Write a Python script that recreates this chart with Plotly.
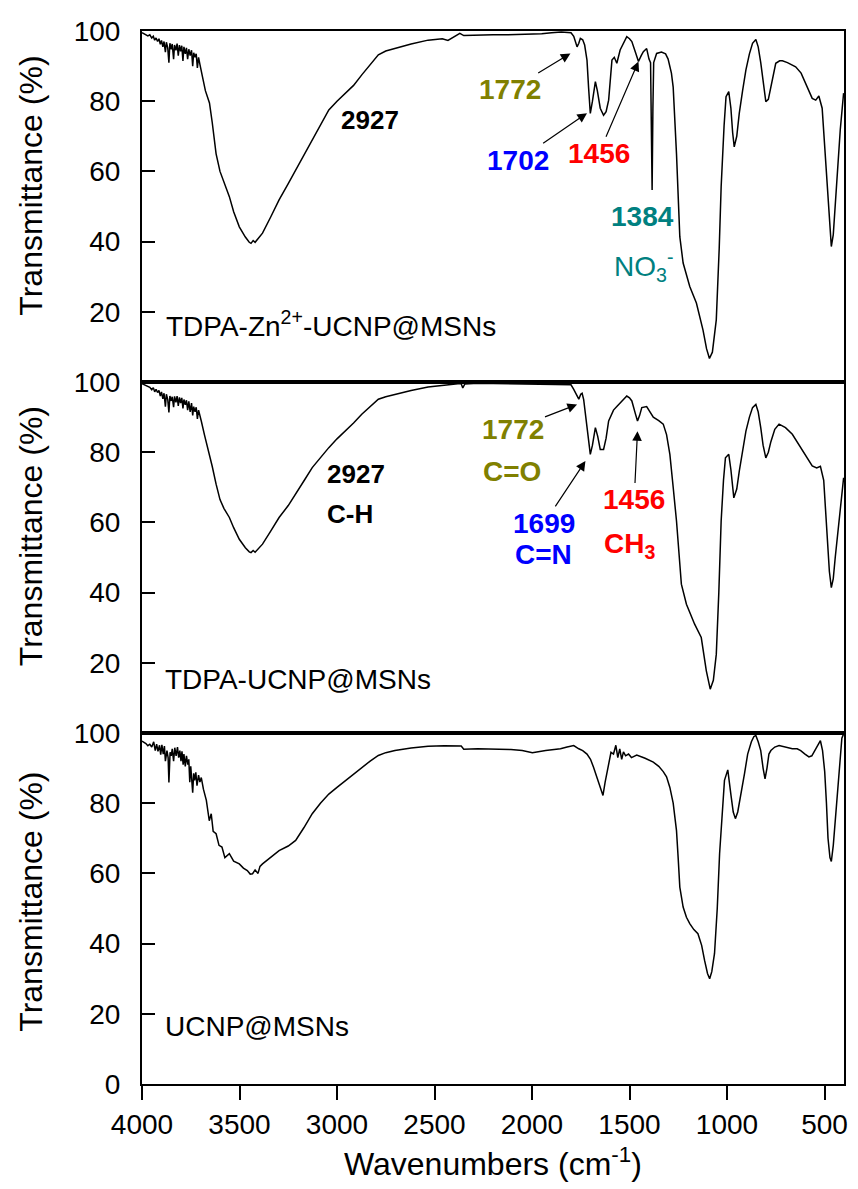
import plotly.graph_objects as go
from plotly.subplots import make_subplots

# ---------------- data ----------------
wn_zn = [4000, 3990, 3980, 3970, 3960, 3950, 3942, 3935, 3928, 3920, 3913, 3906, 3900, 3893, 3887, 3880,
         3875, 3868, 3862, 3857, 3850, 3845, 3838, 3833, 3826, 3820, 3814, 3808, 3802, 3796, 3790, 3785,
         3778, 3772, 3766, 3760, 3753, 3746, 3740, 3735, 3728, 3722, 3716, 3710, 3703, 3696, 3690, 3675,
         3654, 3640, 3620, 3600, 3580, 3552, 3530, 3501, 3470, 3450, 3441, 3430, 3420, 3400, 3382, 3340,
         3297, 3250, 3212, 3170, 3127, 3085, 3042, 3000, 2957, 2915, 2873, 2830, 2788, 2750, 2703, 2620,
         2533, 2460, 2431, 2410, 2370, 2350, 2300, 2200, 2125, 2050, 1950, 1900, 1850, 1800, 1786, 1769,
         1760, 1752, 1740, 1730, 1718, 1710, 1701, 1690, 1675, 1665, 1650, 1633, 1620, 1607, 1598, 1590,
         1578, 1565, 1548, 1530, 1514, 1500, 1488, 1470, 1454, 1440, 1429, 1412, 1400, 1392, 1388, 1384,
         1380, 1376, 1361, 1336, 1315, 1302, 1285, 1276, 1259, 1242, 1225, 1191, 1157, 1123, 1105, 1090,
         1075, 1055, 1040, 1030, 1015, 1005, 991, 980, 971, 963, 950, 937, 920, 903, 885, 869, 852, 840,
         827, 815, 801, 788, 775, 760, 750, 730, 716, 690, 648, 620, 597, 575, 563, 545, 529, 512, 500,
         487, 475, 465, 455, 445, 432, 419, 402]
t_zn = [99.5, 99.2, 99.0, 98.6, 98.9, 98.0, 98.5, 97.4, 98.0, 97.0, 97.8, 96.2, 97.3, 95.5, 97.0, 94.0,
        96.8, 95.2, 91.0, 96.5, 94.8, 96.3, 92.0, 96.0, 94.5, 96.4, 93.0, 96.0, 94.2, 95.8, 91.5, 95.5,
        93.5, 95.2, 92.0, 94.8, 93.0, 94.5, 90.0, 93.8, 92.5, 93.5, 89.5, 92.5, 90.5, 89.0, 87.0, 83.0,
        79.5, 74.0, 65.0, 60.0, 57.0, 52.8, 48.5, 44.2, 41.3, 39.8, 39.5, 40.3, 39.8, 41.2, 42.4, 47.0,
        51.9, 56.5, 60.4, 64.5, 69.0, 73.5, 77.5, 80.0, 82.3, 84.5, 87.5, 90.5, 93.2, 94.3, 95.1, 96.3,
        97.4, 97.8, 97.3, 98.0, 99.3, 98.7, 98.8, 98.9, 98.9, 99.0, 99.2, 99.5, 99.7, 99.5, 98.5, 95.5,
        96.5, 97.9, 97.5, 96.0, 91.7, 84.0, 76.5, 80.0, 85.6, 83.0, 78.0, 76.0, 77.0, 80.3, 87.0, 91.7,
        92.5, 90.8, 94.6, 96.5, 98.4, 97.8, 97.0, 94.0, 91.3, 93.0, 94.1, 95.0, 92.0, 91.0, 75.0, 54.7,
        78.0, 91.0, 93.6, 94.0, 93.5, 92.0, 88.0, 84.0, 65.0, 41.4, 33.9, 27.2, 22.5, 14.8, 9.5, 6.7,
        8.5, 17.7, 38.0, 55.6, 73.0, 81.3, 82.7, 78.0, 71.0, 67.0, 70.0, 76.6, 83.0, 88.9, 93.5, 96.5,
        97.6, 95.5, 91.0, 85.0, 79.9, 80.5, 84.0, 88.5, 90.8, 91.5, 91.5, 91.0, 89.8, 88.0, 85.0, 82.0,
        80.8, 80.3, 81.5, 78.0, 68.0, 55.0, 45.0, 38.6, 42.0, 50.0, 62.0, 72.0, 82.3]

wn_tdpa = [4000, 3990, 3980, 3970, 3960, 3950, 3942, 3935, 3928, 3920, 3913, 3906, 3900, 3893, 3887, 3880,
           3875, 3868, 3862, 3857, 3850, 3845, 3838, 3833, 3826, 3820, 3814, 3808, 3802, 3796, 3790, 3785,
           3778, 3772, 3766, 3760, 3753, 3746, 3740, 3735, 3728, 3722, 3716, 3710, 3703, 3696, 3680, 3662,
           3640, 3620, 3600, 3580, 3552, 3530, 3501, 3470, 3450, 3441, 3430, 3420, 3400, 3382, 3340, 3297,
           3250, 3212, 3170, 3127, 3085, 3042, 3000, 2957, 2915, 2873, 2830, 2788, 2750, 2703, 2620, 2533,
           2450, 2380, 2363, 2355, 2345, 2300, 2200, 2100, 2000, 1900, 1800, 1786, 1772, 1760, 1750, 1743,
           1735, 1726, 1712, 1701, 1690, 1675, 1663, 1650, 1633, 1620, 1607, 1582, 1565, 1548, 1530, 1514,
           1500, 1488, 1470, 1459, 1448, 1437, 1412, 1395, 1378, 1350, 1327, 1310, 1293, 1276, 1259, 1234,
           1208, 1166, 1132, 1106, 1086, 1070, 1055, 1042, 1030, 1018, 1008, 991, 980, 965, 950, 937, 920,
           903, 885, 869, 852, 840, 827, 815, 801, 788, 775, 755, 733, 700, 665, 630, 597, 563, 540, 521,
           504, 487, 475, 465, 455, 445, 432, 419, 402]
t_tdpa = [99.5, 99.3, 99.0, 98.7, 98.5, 97.8, 98.4, 97.2, 97.9, 97.0, 97.6, 96.0, 97.2, 95.2, 96.8, 93.0,
          96.5, 95.0, 91.3, 96.0, 94.6, 95.8, 92.8, 95.9, 94.2, 96.0, 93.2, 95.6, 94.0, 95.5, 92.5, 95.0,
          93.5, 94.8, 92.0, 94.5, 91.5, 94.0, 90.5, 93.0, 91.5, 92.8, 89.5, 92.0, 90.0, 88.9, 85.0, 81.3,
          76.0, 70.9, 66.5, 64.0, 61.4, 58.5, 55.2, 52.8, 51.6, 51.4, 52.0, 51.5, 52.8, 53.8, 57.5, 61.4,
          64.8, 68.0, 71.8, 75.6, 78.5, 81.3, 83.8, 86.0, 88.3, 90.8, 93.0, 95.1, 95.8, 96.5, 97.6, 98.6,
          99.2, 99.5, 99.5, 98.3, 99.4, 99.6, 99.6, 99.5, 99.4, 99.3, 99.2, 97.9, 96.5, 95.1, 96.5, 96.8,
          95.0, 91.3, 85.0, 79.4, 82.0, 87.0, 84.5, 80.8, 80.8, 84.0, 88.9, 92.0, 93.0, 94.0, 95.0, 96.0,
          95.5, 94.6, 91.0, 88.9, 90.5, 92.7, 93.0, 91.5, 90.0, 89.0, 88.0, 85.0, 79.4, 70.0, 60.4, 42.4,
          36.7, 31.0, 27.2, 17.7, 12.5, 15.0, 22.4, 40.0, 60.4, 72.0, 78.4, 79.4, 75.0, 67.0, 69.5, 74.6,
          80.0, 86.0, 90.0, 92.7, 93.6, 91.5, 87.0, 82.0, 78.4, 80.0, 83.0, 86.5, 88.0, 87.0, 85.1, 82.0,
          79.4, 76.1, 75.5, 76.0, 72.0, 55.6, 46.0, 41.4, 44.0, 50.0, 57.0, 65.0, 72.7]

wn_ucnp = [4000, 3990, 3980, 3970, 3960, 3950, 3940, 3932, 3925, 3918, 3910, 3904, 3898, 3891, 3885, 3880,
           3872, 3866, 3862, 3856, 3850, 3845, 3838, 3832, 3825, 3818, 3812, 3806, 3800, 3795, 3789, 3785,
           3778, 3772, 3765, 3760, 3755, 3750, 3747, 3740, 3735, 3730, 3724, 3718, 3710, 3703, 3696, 3685,
           3670, 3655, 3645, 3635, 3620, 3605, 3590, 3575, 3552, 3530, 3501, 3480, 3460, 3445, 3433, 3420,
           3405, 3395, 3382, 3340, 3297, 3250, 3212, 3170, 3127, 3085, 3042, 3000, 2957, 2915, 2873, 2830,
           2788, 2750, 2703, 2620, 2533, 2450, 2363, 2350, 2278, 2200, 2108, 2050, 1998, 1930, 1854, 1820,
           1786, 1760, 1740, 1718, 1700, 1684, 1665, 1650, 1636, 1625, 1607, 1595, 1582, 1570, 1560, 1550,
           1540, 1531, 1520, 1505, 1490, 1463, 1420, 1378, 1350, 1327, 1310, 1293, 1276, 1259, 1250, 1242,
           1225, 1208, 1191, 1170, 1149, 1130, 1115, 1100, 1089, 1078, 1064, 1050, 1038, 1025, 1013, 996,
           985, 979, 968, 957, 945, 928, 910, 894, 875, 862, 852, 840, 827, 815, 805, 795, 785, 775, 755,
           733, 700, 665, 640, 622, 600, 580, 565, 546, 530, 521, 510, 499, 490, 482, 472, 465, 455, 445,
           428, 411, 400]
t_ucnp = [97.7, 97.4, 97.0, 96.4, 96.8, 96.0, 97.5, 95.0, 96.8, 94.8, 96.5, 93.8, 96.6, 94.0, 96.3, 92.0,
          95.0, 93.0, 85.9, 94.5, 93.5, 95.5, 92.0, 95.8, 93.5, 96.0, 93.0, 95.0, 92.0, 94.8, 91.0, 94.0,
          90.5, 93.5, 91.0, 92.5, 86.0, 90.5, 88.0, 83.0, 88.5, 86.5, 88.8, 85.0, 88.0, 86.0, 87.3, 84.0,
          80.8, 75.0, 77.0, 72.0, 71.3, 68.0, 67.5, 64.5, 65.6, 63.5, 62.7, 61.5, 60.8, 59.8, 59.9, 61.0,
          60.0, 62.0, 62.7, 64.5, 66.5, 67.8, 69.4, 73.0, 77.0, 80.0, 82.6, 84.5, 86.4, 88.2, 90.2, 92.0,
          93.6, 94.4, 95.0, 95.7, 96.2, 96.4, 96.3, 95.4, 95.5, 95.4, 95.3, 95.0, 94.4, 95.0, 95.5, 96.0,
          96.4, 95.5, 95.0, 94.0, 92.5, 90.2, 87.0, 84.5, 82.2, 86.0, 91.2, 94.5, 94.0, 96.5, 93.0, 95.5,
          92.5, 94.6, 93.5, 94.0, 93.0, 93.7, 92.8, 91.7, 90.5, 89.0, 87.5, 84.5, 80.0, 72.2, 64.0, 56.1,
          50.4, 47.5, 45.7, 44.0, 42.8, 39.5, 35.2, 31.5, 30.0, 32.0, 37.2, 50.0, 65.6, 78.0, 86.5, 89.5,
          85.5, 82.0, 77.5, 75.6, 77.5, 82.6, 88.5, 94.0, 97.5, 99.0, 99.3, 97.5, 95.0, 90.0, 86.9, 90.0,
          94.0, 95.0, 96.0, 96.4, 96.0, 95.5, 95.5, 95.0, 94.0, 93.2, 93.5, 95.5, 97.2, 97.8, 95.0, 89.0,
          80.0, 70.0, 64.5, 63.4, 68.0, 75.0, 85.0, 98.5, 100.0]

sample_names = ["TDPA-Zn<sup>2+</sup>-UCNP@MSNs", "TDPA-UCNP@MSNs", "UCNP@MSNs"]
x_ticks = [4000, 3500, 3000, 2500, 2000, 1500, 1000, 500]
y_ticks_full = [0, 20, 40, 60, 80, 100]
y_ticks_upper = [20, 40, 60, 80, 100]

FONT = "Arial, 'Liberation Sans', sans-serif"
OLIVE, BLUE, RED, TEAL = "#808000", "#0000FF", "#FF0000", "#008080"

fig = make_subplots(rows=3, cols=1, shared_xaxes=True, vertical_spacing=0)

for i, (wx, ty) in enumerate([(wn_zn, t_zn), (wn_tdpa, t_tdpa), (wn_ucnp, t_ucnp)]):
    fig.add_trace(go.Scatter(x=wx, y=ty, mode="lines", line=dict(color="black", width=1.5),
                             showlegend=False, hoverinfo="skip"), row=i + 1, col=1)

for r in (1, 2, 3):
    fig.update_xaxes(row=r, col=1, range=[4000, 400], autorange=False, showline=True, mirror=True,
                     linecolor="black", linewidth=2, showgrid=False, zeroline=False,
                     tickvals=x_ticks, ticks="outside" if r == 3 else "", ticklen=14, tickwidth=2,
                     tickcolor="black", showticklabels=(r == 3),
                     tickfont=dict(family=FONT, size=28, color="black"))
    fig.update_yaxes(row=r, col=1, range=[0, 100], autorange=False, showline=True, mirror=True,
                     linecolor="black", linewidth=2, showgrid=False, zeroline=False,
                     tickvals=y_ticks_full if r == 3 else y_ticks_upper, ticks="inside", ticklen=13,
                     tickwidth=2, tickcolor="black", ticklabelstandoff=14,
                     tickfont=dict(family=FONT, size=28, color="black"))

annotations = []


def refs(panel):
    s = "" if panel == 1 else str(panel)
    return "x" + s, "y" + s


def txt(text, x, y, panel, color="black", size=28, bold=True, xanchor="center"):
    xr, yr = refs(panel)
    annotations.append(dict(text=("<b>%s</b>" % text) if bold else text, x=x, y=y,
                            xref=xr, yref=yr, showarrow=False, xanchor=xanchor,
                            yanchor="middle", font=dict(family=FONT, size=size, color=color)))


def label_arrow(text, tx, ty, px, py, panel, color):
    """Label centred at (tx, ty) with an arrow pointing to the band at (px, py)."""
    xr, yr = refs(panel)
    annotations.append(dict(text="<b>%s</b>" % text, x=px, y=py, ax=tx, ay=ty, xref=xr, yref=yr,
                            axref=xr, ayref=yr, showarrow=True, arrowhead=2, arrowsize=1.6,
                            arrowwidth=1.2, arrowcolor="black", standoff=0, startstandoff=0,
                            font=dict(family=FONT, size=28, color=color)))


# panel labels
txt(sample_names[0], 3885, 16.5, 1, size=28, bold=False, xanchor="left")
txt(sample_names[1], 3892, 15.2, 2, size=28, bold=False, xanchor="left")
txt(sample_names[2], 3892, 16.4, 3, size=28, bold=False, xanchor="left")

# panel 1 assignments
txt("2927", 2830, 74.6, 1, size=26)
label_arrow("1772", 2112, 83.2, 1803, 93.6, 1, OLIVE)
label_arrow("1702", 2070, 63.2, 1718, 76.6, 1, BLUE)
label_arrow("1456", 1658, 65.0, 1454, 91.3, 1, RED)
txt("1384", 1433, 47.1, 1, color=TEAL)
txt("NO<sub>3</sub><sup>-</sup>", 1591, 33.0, 1, color=TEAL, bold=False, xanchor="left")

# panel 2 assignments
txt("2927", 3060, 73.9, 2, size=26, xanchor="left")
txt("C-H", 3060, 62.5, 2, size=26, xanchor="left")
label_arrow("1772", 2100, 86.5, 1769, 93.6, 2, OLIVE)
txt("C=O", 2262, 74.5, 2, color=OLIVE, xanchor="left")
label_arrow("1699", 1938, 59.7, 1726, 77.5, 2, BLUE)
txt("C=N", 2100, 50.9, 2, color=BLUE, xanchor="left")
label_arrow("1456", 1476, 66.4, 1459, 86.0, 2, RED)
txt("CH<sub>3</sub>", 1642, 53.5, 2, color=RED, xanchor="left")

# axis titles
for yc in (0.8528, 0.5199, 0.1728):
    annotations.append(dict(text="Transmittance (%)", xref="paper", yref="paper", x=-0.1586, y=yc,
                            textangle=-90, showarrow=False, xanchor="center", yanchor="middle",
                            font=dict(family=FONT, size=32, color="black")))
annotations.append(dict(text="Wavenumbers (cm<sup>-1</sup>)", xref="paper", yref="paper", x=0.5,
                        y=-0.074, showarrow=False, xanchor="center", yanchor="middle",
                        font=dict(family=FONT, size=32, color="black")))

fig.update_layout(width=858, height=1189, margin=dict(l=142, r=10, t=31, b=105),
                  paper_bgcolor="white", plot_bgcolor="white", annotations=annotations,
                  font=dict(family=FONT, color="black"))

fig.write_html("out.html")
